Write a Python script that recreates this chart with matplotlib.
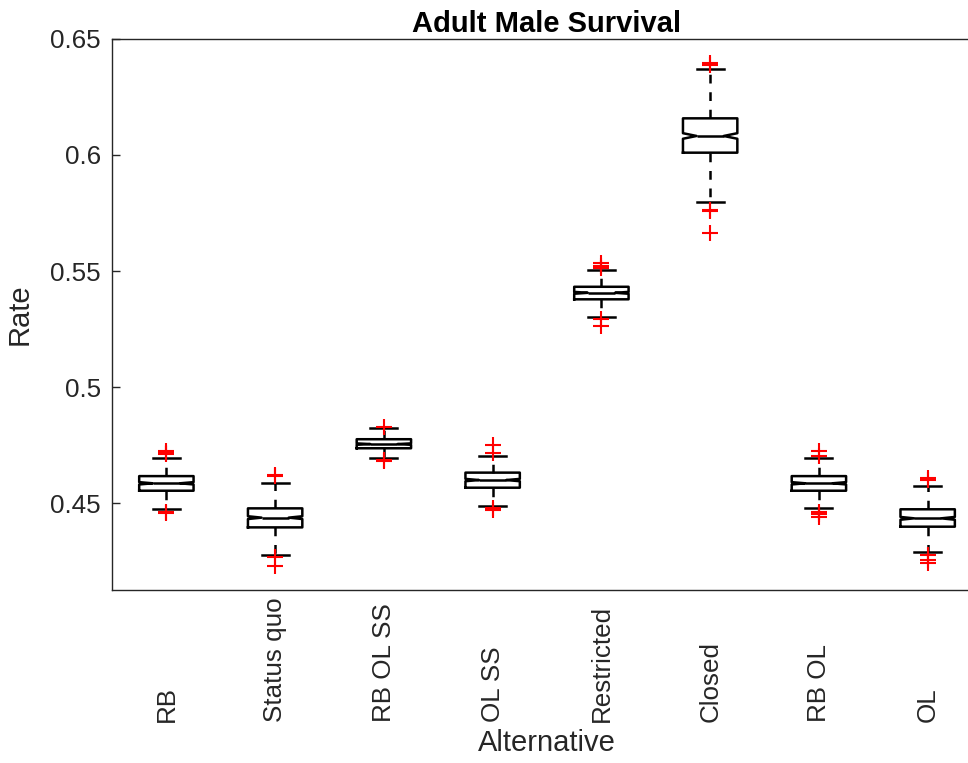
"""Adult male survival boxplot (notched, MATLAB style)."""

import matplotlib
matplotlib.use('Agg')
import matplotlib.pyplot as plt

plt.rcParams['font.family'] = ['Liberation Sans', 'DejaVu Sans']

# --- data ---
alternatives = ['RB', 'Status quo', 'RB OL SS', 'OL SS',
                'Restricted', 'Closed', 'RB OL', 'OL']
q1 = [0.4553, 0.4395, 0.4736, 0.4566, 0.5378, 0.6010, 0.4553, 0.4398]
med = [0.4585, 0.4437, 0.4754, 0.4599, 0.5406, 0.6082, 0.4585, 0.4434]
q3 = [0.4616, 0.4477, 0.4775, 0.4631, 0.5432, 0.6158, 0.4616, 0.4473]
whisk_lo = [0.4473, 0.4275, 0.4695, 0.4488, 0.5303, 0.5799, 0.4480, 0.4289]
whisk_hi = [0.4695, 0.4588, 0.4822, 0.4704, 0.5504, 0.6371, 0.4695, 0.4575]
notch_half = [0.0005, 0.0006, 0.0003, 0.0005, 0.0004, 0.0012, 0.0005, 0.0006]
outliers = [
    [0.4710, 0.4717, 0.4725, 0.4463, 0.4455],
    [0.4615, 0.4621, 0.4269, 0.4230],
    [0.4829, 0.4685, 0.4680],
    [0.4750, 0.4716, 0.4478, 0.4472],
    [0.5533, 0.5522, 0.5512, 0.5292, 0.5263],
    [0.6388, 0.6395, 0.5763, 0.5757, 0.5665],
    [0.4724, 0.4703, 0.4463, 0.4451, 0.4438],
    [0.4607, 0.4600, 0.4276, 0.4254, 0.4240],
]

stats = []
for i, name in enumerate(alternatives):
    stats.append({
        'label': name,
        'med': med[i], 'q1': q1[i], 'q3': q3[i],
        'whislo': whisk_lo[i], 'whishi': whisk_hi[i],
        'cilo': med[i] - notch_half[i], 'cihi': med[i] + notch_half[i],
        'fliers': outliers[i],
    })

text_color = '#262626'

fig = plt.figure(figsize=(9.68, 7.63), dpi=100)
ax = fig.add_axes([0.1157, 0.2267, 0.8988, 0.7222])

ax.bxp(stats, positions=range(1, len(stats) + 1), widths=0.5,
       shownotches=True,
       boxprops=dict(color='black', linewidth=1.8),
       medianprops=dict(color='black', linewidth=1.8),
       whiskerprops=dict(color='black', linewidth=1.8, linestyle=(0, (3.5, 3.5))),
       capprops=dict(color='black', linewidth=1.8),
       flierprops=dict(marker='+', markeredgecolor='red', markersize=12,
                       markeredgewidth=1.5, linestyle='none'))

ax.set_xlim(0.5, 8.5)
ax.set_ylim(0.4125, 0.65)
ax.set_yticks([0.45, 0.5, 0.55, 0.6, 0.65])
ax.set_yticklabels(['0.45', '0.5', '0.55', '0.6', '0.65'])
ax.tick_params(axis='y', direction='in', length=6, width=1.0,
               colors=text_color, labelsize=18.7, pad=8)

ax.set_xticks(range(1, len(alternatives) + 1))
ax.set_xticklabels(alternatives, rotation=90, va='bottom', ha='center')
ax.tick_params(axis='x', length=0, colors=text_color, labelsize=18.7, pad=95)

for side in ['left', 'bottom', 'top', 'right']:
    ax.spines[side].set_color(text_color)
    ax.spines[side].set_linewidth(1.0)

ax.set_title('Adult Male Survival', fontsize=21, fontweight='bold',
             color='black', pad=5)
ax.set_ylabel('Rate', fontsize=21, color=text_color)
ax.yaxis.set_label_coords(-0.09, 0.5)
ax.set_xlabel('Alternative', fontsize=21, color=text_color)
ax.xaxis.set_label_coords(0.5, -0.253)

fig.savefig('out.png', dpi=100)
